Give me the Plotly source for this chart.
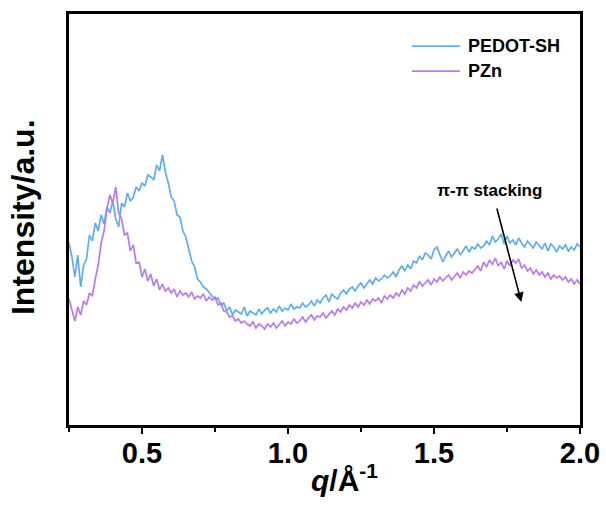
import numpy as np
import plotly.graph_objects as go

# q grid start / step (Å^-1)
q_start = 0.25
q_step = 0.01

pedot_sh = [
    184, 170, 150, 172, 140, 162, 168, 192, 186, 204,
    196, 212, 203, 220, 214, 226, 208, 200, 224, 220,
    234, 226, 230, 240, 236, 244, 241, 252, 250, 247,
    262, 256, 272, 255, 244, 230, 226, 212, 210, 196,
    190, 179, 166, 160, 148, 145, 140, 138, 134, 131,
    128, 129, 122, 124, 116, 120, 112, 117, 115, 113,
    120, 111, 116, 114, 112, 118, 113, 117, 119, 114,
    118, 115, 121, 116, 119, 117, 123, 118, 120, 119,
    124, 120, 122, 126, 121, 127, 124, 129, 132, 125,
    133, 130, 128, 134, 137, 133, 138, 140, 136, 141,
    144, 139, 143, 147, 143, 149, 146, 148, 152, 149,
    151, 155, 150, 157, 161, 156, 162, 158, 166, 164,
    171, 167, 174, 172, 168, 177, 180, 172, 165, 171,
    176, 170, 174, 178, 172, 177, 181, 175, 180, 178,
    183, 179, 181, 186, 182, 191, 185, 188, 193, 183,
    191, 184, 187, 182, 189, 184, 180, 186, 183, 179,
    185, 181, 178, 184, 176, 183, 180, 175, 181, 178,
    182, 176, 180, 177, 183, 180,
]

pzn = [
    128, 118, 106, 120, 112, 126, 122, 134, 131, 148,
    162, 184, 196, 218, 232, 224, 240, 214, 208, 192,
    194, 176, 182, 164, 165, 150, 158, 146, 153, 141,
    148, 137, 143, 136, 139, 134, 138, 130, 136, 132,
    134, 130, 135, 128, 131, 129, 133, 126, 130, 127,
    130, 122, 124, 116, 115, 110, 111, 106, 108, 104,
    106, 103, 101, 105, 99, 103, 101, 98, 103, 100,
    104, 99, 103, 106, 101, 105, 103, 108, 104, 106,
    110, 105, 109, 112, 107, 111, 110, 114, 109, 113,
    116, 112, 118, 115, 120, 117, 122, 119, 124, 120,
    125, 122, 127, 123, 128, 126, 129, 124, 131, 128,
    132, 129, 134, 131, 137, 133, 139, 136, 142, 139,
    145, 141, 144, 147, 142, 148, 145, 150, 146, 149,
    152, 147, 151, 154, 149, 155, 152, 156, 154, 158,
    161, 156, 165, 160, 167, 163, 169, 161, 165, 158,
    166, 161, 167, 164, 168, 159, 162, 156, 159, 153,
    157, 152, 155, 150, 154, 148, 152, 149, 151, 147,
    150, 145, 148, 143, 147, 143,
]

series_names = ["PEDOT-SH", "PZn"]
series_colors = ["#5DAEF3", "#B87CF0"]
x_range = [0.25, 2.0]
x_ticks = [0.5, 1.0, 1.5, 2.0]
x_minor_ticks = [0.25, 0.75, 1.25, 1.75]
x_tick_labels = ["0.5", "1.0", "1.5", "2.0"]
annot_text = "π-π stacking"
annot_pos = (1.69, 237)
arrow_tail = (1.714, 220)
arrow_head = (1.799, 125)

FONT = "Liberation Sans, Arial, sans-serif"

fig = go.Figure()
for name, vals, col in zip(series_names, [pedot_sh, pzn], series_colors):
    q = np.round(q_start + q_step * np.arange(len(vals)), 3)
    fig.add_trace(go.Scatter(x=q, y=vals, mode="lines", name=name,
                             line=dict(color=col, width=1.7), showlegend=False))

# invisible trace to activate the overlay axis carrying the major ticks
fig.add_trace(go.Scatter(x=x_range, y=[None, None], xaxis="x2", mode="lines",
                         showlegend=False, hoverinfo="skip"))

# legend drawn by hand (long sample lines, as in the reference)
leg_y = [0.922, 0.861]
for name, col, yy in zip(series_names, series_colors, leg_y):
    fig.add_shape(type="line", xref="paper", yref="paper",
                  x0=0.671, x1=0.765, y0=yy, y1=yy,
                  line=dict(color=col, width=1.7))
    fig.add_annotation(xref="paper", yref="paper", x=0.776, y=yy,
                       xanchor="left", yanchor="middle", showarrow=False,
                       text="<b>" + name + "</b>",
                       font=dict(family=FONT, size=18, color="black"))

fig.add_annotation(x=annot_pos[0], y=annot_pos[1], text="<b>" + annot_text + "</b>",
                   showarrow=False, font=dict(family=FONT, size=17, color="black"))
fig.add_annotation(x=arrow_head[0], y=arrow_head[1], ax=arrow_tail[0], ay=arrow_tail[1],
                   axref="x", ayref="y", xref="x", yref="y", text="",
                   showarrow=True, arrowhead=2, arrowsize=1.2, arrowwidth=1.6,
                   arrowcolor="black")

# axis titles
fig.add_annotation(xref="paper", yref="paper", x=0.54, y=-0.129,
                   xanchor="center", yanchor="middle", showarrow=False,
                   text="<b><i>q</i>/Å<sup>-1</sup></b>",
                   font=dict(family=FONT, size=30, color="black"))
fig.add_annotation(xref="paper", yref="paper", x=-0.09, y=0.506,
                   xanchor="center", yanchor="middle", showarrow=False,
                   textangle=-90, text="<b>Intensity/a.u.</b>",
                   font=dict(family=FONT, size=32, color="black"))

fig.update_layout(
    width=606, height=510,
    margin=dict(l=69, r=26, t=14, b=85),
    plot_bgcolor="white", paper_bgcolor="white",
    font=dict(family=FONT, color="black"),
    showlegend=False,
    xaxis=dict(range=x_range, tickvals=x_ticks, ticktext=x_tick_labels,
               ticks="outside", ticklen=0, tickwidth=2, tickcolor="black",
               minor=dict(tickvals=x_minor_ticks, ticks="outside",
                          ticklen=4, tickwidth=2, tickcolor="black"),
               showline=True, linecolor="black", linewidth=2.5, mirror=True,
               showgrid=False, zeroline=False, automargin=False,
               tickfont=dict(family=FONT, size=29, weight="bold")),
    xaxis2=dict(range=x_range, overlaying="x", side="bottom", anchor="y",
                tickvals=x_ticks, showticklabels=False,
                ticks="outside", ticklen=8, tickwidth=2, tickcolor="black",
                showline=False, showgrid=False, zeroline=False, automargin=False),
    yaxis=dict(range=[2, 413], showticklabels=False, ticks="",
               showline=True, linecolor="black", linewidth=2.5, mirror=True,
               showgrid=False, zeroline=False, automargin=False),
)

fig.write_html("out.html")
